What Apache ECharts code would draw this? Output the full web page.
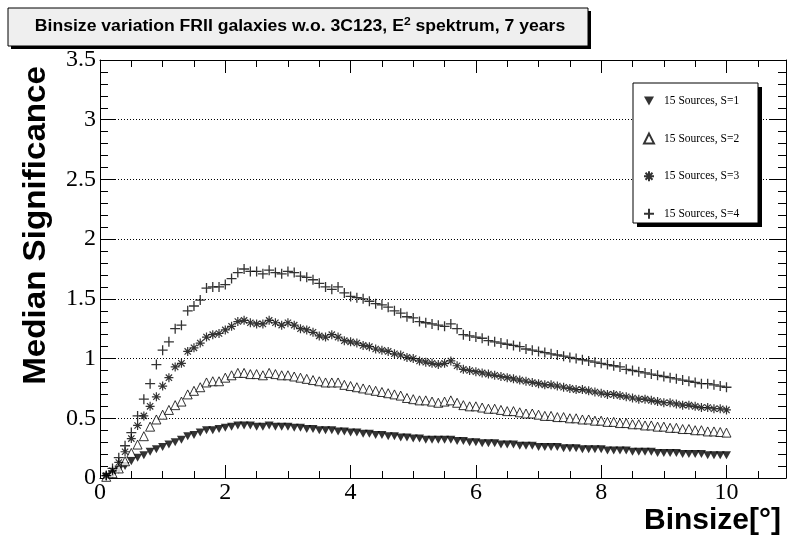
<!DOCTYPE html>
<html>
<head>
<meta charset="utf-8">
<script src="https://cdn.jsdelivr.net/npm/echarts@6/dist/echarts.min.js"></script>
<style>
html,body{margin:0;padding:0;background:#fff;}
#chart{width:789px;height:548px;}
</style>
</head>
<body>
<div id="chart"></div>
<script>
const binsize = [0.1,0.2,0.3,0.4,0.5,0.6,0.7,0.8,0.9,1.0,
  1.1,1.2,1.3,1.4,1.5,1.6,1.7,1.8,1.9,2.0,
  2.1,2.2,2.3,2.4,2.5,2.6,2.7,2.8,2.9,3.0,
  3.1,3.2,3.3,3.4,3.5,3.6,3.7,3.8,3.9,4.0,
  4.1,4.2,4.3,4.4,4.5,4.6,4.7,4.8,4.9,5.0,
  5.1,5.2,5.3,5.4,5.5,5.6,5.7,5.8,5.9,6.0,
  6.1,6.2,6.3,6.4,6.5,6.6,6.7,6.8,6.9,7.0,
  7.1,7.2,7.3,7.4,7.5,7.6,7.7,7.8,7.9,8.0,
  8.1,8.2,8.3,8.4,8.5,8.6,8.7,8.8,8.9,9.0,
  9.1,9.2,9.3,9.4,9.5,9.6,9.7,9.8,9.9,10.0];

const sigS1 = [0.01,0.03,0.07,0.10,0.14,0.17,0.19,0.22,0.24,0.26,
  0.28,0.30,0.32,0.35,0.36,0.38,0.40,0.40,0.41,0.42,
  0.43,0.44,0.44,0.44,0.43,0.43,0.44,0.43,0.43,0.43,
  0.42,0.42,0.41,0.41,0.40,0.40,0.40,0.39,0.39,0.38,
  0.38,0.37,0.37,0.36,0.36,0.35,0.35,0.34,0.34,0.33,
  0.33,0.32,0.32,0.32,0.32,0.32,0.31,0.31,0.30,0.30,
  0.29,0.29,0.29,0.28,0.28,0.28,0.27,0.27,0.27,0.26,
  0.26,0.26,0.26,0.25,0.25,0.25,0.24,0.24,0.24,0.24,
  0.23,0.23,0.23,0.23,0.22,0.22,0.22,0.22,0.21,0.21,
  0.21,0.21,0.20,0.20,0.20,0.20,0.19,0.19,0.19,0.19];

const sigS2 = [0.01,0.04,0.08,0.14,0.21,0.28,0.35,0.43,0.49,0.53,
  0.57,0.61,0.64,0.70,0.73,0.76,0.80,0.81,0.81,0.84,
  0.86,0.88,0.88,0.87,0.87,0.86,0.88,0.87,0.86,0.86,
  0.85,0.84,0.83,0.82,0.81,0.80,0.80,0.80,0.78,0.77,
  0.76,0.75,0.74,0.73,0.72,0.71,0.70,0.69,0.67,0.66,
  0.65,0.65,0.64,0.63,0.64,0.65,0.63,0.61,0.60,0.60,
  0.59,0.58,0.58,0.57,0.56,0.56,0.55,0.54,0.54,0.53,
  0.52,0.52,0.51,0.51,0.50,0.50,0.49,0.49,0.48,0.48,
  0.47,0.47,0.46,0.46,0.45,0.45,0.44,0.44,0.43,0.43,
  0.42,0.42,0.41,0.41,0.40,0.40,0.39,0.39,0.385,0.38];

const sigS3 = [0.02,0.06,0.13,0.22,0.33,0.44,0.52,0.60,0.68,0.77,
  0.84,0.93,0.96,1.06,1.09,1.13,1.18,1.20,1.21,1.24,
  1.27,1.31,1.32,1.30,1.29,1.29,1.32,1.30,1.28,1.30,
  1.28,1.25,1.24,1.22,1.19,1.18,1.20,1.18,1.15,1.14,
  1.13,1.11,1.10,1.08,1.07,1.06,1.04,1.03,1.01,1.00,
  0.98,0.97,0.96,0.95,0.96,0.98,0.94,0.91,0.90,0.89,
  0.88,0.87,0.86,0.85,0.84,0.83,0.82,0.81,0.80,0.79,
  0.78,0.78,0.77,0.76,0.75,0.74,0.74,0.73,0.72,0.71,
  0.70,0.70,0.69,0.68,0.67,0.66,0.66,0.65,0.64,0.63,
  0.63,0.62,0.61,0.61,0.60,0.59,0.59,0.58,0.58,0.57];

const sigS4 = [0.02,0.08,0.17,0.27,0.38,0.52,0.66,0.79,0.95,1.07,
  1.14,1.25,1.28,1.40,1.44,1.49,1.59,1.60,1.60,1.62,
  1.67,1.72,1.75,1.73,1.73,1.71,1.74,1.72,1.71,1.73,
  1.72,1.69,1.68,1.66,1.63,1.60,1.58,1.60,1.55,1.52,
  1.51,1.50,1.48,1.46,1.45,1.43,1.40,1.38,1.35,1.34,
  1.31,1.30,1.29,1.28,1.27,1.29,1.25,1.20,1.19,1.18,
  1.17,1.15,1.14,1.13,1.12,1.11,1.10,1.08,1.07,1.06,
  1.05,1.04,1.03,1.02,1.01,1.00,0.99,0.98,0.97,0.96,
  0.95,0.94,0.93,0.91,0.90,0.89,0.88,0.87,0.86,0.85,
  0.84,0.83,0.82,0.81,0.80,0.79,0.79,0.78,0.77,0.76];

const seriesNames = ['15 Sources, S=1','15 Sources, S=2','15 Sources, S=3','15 Sources, S=4'];
const xTickLabels = ['0','2','4','6','8','10'];
const yTickLabels = ['0','0.5','1','1.5','2','2.5','3','3.5'];

function pairs(ys){ return binsize.map((x,i)=>[x, ys[i]]); }

const chart = echarts.init(document.getElementById('chart'), null, {renderer:'canvas'});

const SERIF = 'Liberation Serif';

function xa(pos, interval, len, labels, line){
  return {
    type:'value', position:pos, min:0, max:10.95, interval:interval, gridIndex:0,
    axisLine:{show:line, onZero:false, lineStyle:{color:'#000', width:1}},
    axisTick:{show:true, inside:true, length:len, lineStyle:{color:'#000', width:1}},
    axisLabel:{show:labels, color:'#000', fontFamily:SERIF, fontSize:24, margin:3, showMaxLabel:false,
      formatter:function(v){ const s = String(Math.round(v)); return (Math.abs(v-Math.round(v))<1e-6 && xTickLabels.indexOf(s)>=0) ? s : ''; }},
    splitLine:{show:false}
  };
}
function ya(pos, interval, len, labels, line, split){
  return {
    type:'value', position:pos, min:0, max:3.5, interval:interval, gridIndex:0,
    axisLine:{show:line, onZero:false, lineStyle:{color:'#000', width:1}},
    axisTick:{show:true, inside:true, length:len, lineStyle:{color:'#000', width:1}},
    axisLabel:{show:labels, color:'#000', fontFamily:SERIF, fontSize:24, margin:4,
      formatter:function(v){ const idx = Math.round(v/0.5); return (Math.abs(v-idx*0.5)<1e-6) ? yTickLabels[idx] : ''; }},
    splitLine:{show:split, lineStyle:{color:'#000', width:1, type:[1,2]}}
  };
}

const triDown = 'path://M0,0L10,0L5,9Z';
const asterisk = 'path://M0,5L10,5M5,0L5,10M1.5,1.5L8.5,8.5M8.5,1.5L1.5,8.5';
const plus = 'path://M0,5L10,5M5,0L5,10';

const option = {
  backgroundColor:'#fff',
  animation:false,
  grid:{left:100, right:3, top:60, bottom:70, containLabel:false, outerBoundsMode:'none'},
  xAxis:[
    xa('bottom', 2, 13, true, true),
    xa('bottom', 0.5, 7, false, false),
    xa('top', 2, 13, false, true),
    xa('top', 0.5, 7, false, false)
  ],
  yAxis:[
    ya('left', 0.5, 16, true, true, true),
    ya('left', 0.1, 8, false, false, false),
    ya('right', 0.5, 16, false, true, false),
    ya('right', 0.1, 8, false, false, false)
  ],
  legend:{
    orient:'vertical', left:643, top:95, padding:0,
    itemWidth:10, itemHeight:10, itemGap:25.6,
    data:seriesNames,
    textStyle:{fontFamily:SERIF, fontSize:11.5, color:'#000', padding:[0,0,0,5]},
    z:10
  },
  series:[
    {name:seriesNames[0], type:'scatter', data:pairs(sigS1), symbol:triDown, symbolSize:[9,8],
      itemStyle:{color:'#000'}},
    {name:seriesNames[1], type:'scatter', data:pairs(sigS2), symbol:'triangle', symbolSize:9,
      itemStyle:{color:'#fff', borderColor:'#000', borderWidth:1}},
    {name:seriesNames[2], type:'scatter', data:pairs(sigS3), symbol:asterisk, symbolSize:9,
      itemStyle:{color:'rgba(0,0,0,0)', borderColor:'#000', borderWidth:1.2}},
    {name:seriesNames[3], type:'scatter', data:pairs(sigS4), symbol:plus, symbolSize:10,
      itemStyle:{color:'rgba(0,0,0,0)', borderColor:'#000', borderWidth:1.3}}
  ],
  graphic:[
    {type:'rect', z:1, shape:{x:11, y:11, width:580, height:38}, style:{fill:'#000'}},
    {type:'rect', z:2, shape:{x:8, y:8, width:580, height:38}, style:{fill:'#efefef', stroke:'#000', lineWidth:1}},
    {type:'text', z:3, x:300, y:27, scaleX:1.1, style:{
      text:'Binsize variation FRII galaxies w.o. 3C123, E{sup|2} spektrum, 7 years',
      font:'bold 16px "Liberation Sans"', fill:'#000', align:'center', verticalAlign:'middle',
      rich:{sup:{font:'bold 11px "Liberation Sans"', fill:'#000', padding:[0,0,10,0]}}
    }},
    {type:'rect', z:8, shape:{x:637, y:87, width:125, height:140}, style:{fill:'#000'}},
    {type:'rect', z:9, shape:{x:633, y:83, width:125, height:140}, style:{fill:'#fff', stroke:'#000', lineWidth:1}},
    {type:'text', z:3, x:36, y:66, rotation:Math.PI/2, scaleX:1.07, style:{
      text:'Median Significance', font:'bold 31px "Liberation Sans"', fill:'#000', align:'right', verticalAlign:'middle'}},
    {type:'text', z:3, x:781, y:521, style:{
      text:'Binsize[°]', font:'bold 30px "Liberation Sans"', fill:'#000', align:'right', verticalAlign:'middle'}}
  ]
};
chart.setOption(option);
</script>
</body>
</html>
